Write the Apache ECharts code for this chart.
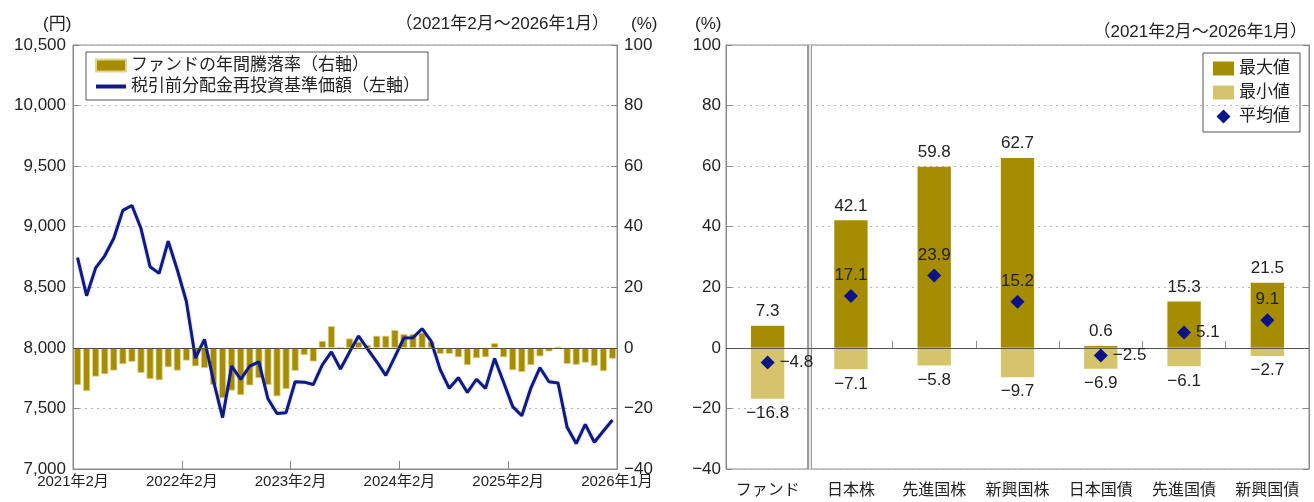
<!DOCTYPE html>
<html><head><meta charset="utf-8">
<script src="https://cdn.jsdelivr.net/npm/echarts@6/dist/echarts.min.js"></script>
<style>html,body{margin:0;padding:0;background:#fff}#c{width:1314px;height:502px}</style>
</head><body><div id="c"></div>
<script>
// ---- Left chart data (2021年2月〜2026年1月, monthly) ----
const fundReturn = [
  -12.3,-14.3,-9.5,-8.7,-7.5,-5.4,-4.6,-8.3,-10.3,-10.7,-6.4,-7.5,
  -4.2,-6.1,-6.7,-12.2,-16.6,-14.1,-15.6,-12.4,-10.0,-12.3,-16.0,-13.6,
  -7.6,-2.4,-4.5,2.3,7.2,0.2,3.1,2.0,1.0,4.0,4.0,5.9,
  4.6,4.6,5.0,2.1,-2.0,-2.0,-3.1,-5.7,-3.4,-3.1,1.6,-3.1,
  -7.4,-8.0,-5.7,-2.8,-1.2,0.4,-5.3,-5.6,-4.9,-6.0,-7.7,-3.6
];
const navValue = [
  8745,8430,8660,8760,8905,9135,9175,8985,8670,8615,8880,8645,
  8385,7915,8070,7725,7425,7850,7740,7850,7885,7580,7458,7465,
  7720,7717,7697,7860,7967,7825,7965,8098,7990,7885,7773,7926,
  8082,8083,8158,8055,7820,7666,7754,7632,7741,7666,7912,7714,
  7515,7440,7668,7836,7720,7710,7344,7210,7368,7221,7314,7405
];
const xTickLabels = ['2021年2月','2022年2月','2023年2月','2024年2月','2025年2月','2026年1月'];
const barName = 'ファンドの年間騰落率（右軸）';
const lineName = '税引前分配金再投資基準価額（左軸）';

// ---- Right chart data ----
const assetClasses = ['ファンド','日本株','先進国株','新興国株','日本国債','先進国債','新興国債'];
const maxValues = [7.3, 42.1, 59.8, 62.7, 0.6, 15.3, 21.5];
const minValues = [-16.8, -7.1, -5.8, -9.7, -6.9, -6.1, -2.7];
const avgValues = [-4.8, 17.1, 23.9, 15.2, -2.5, 5.1, 9.1];

const months = [];
for (let i = 0; i < fundReturn.length; i++) {
  const y = 2021 + Math.floor((1 + i) / 12);
  const m = ((1 + i) % 12) + 1;
  months.push(y + '年' + m + '月');
}

const FONT = "'Liberation Sans','Noto Sans CJK JP',sans-serif";
const TXT = '#222';
const GRID_LINE = {show: true, lineStyle: {color: '#b5b5b5', type: [2, 4], width: 1}};
const minus = v => (v < 0 ? '\u2212' : '') + Math.abs(v);
const fmt1 = v => (v < 0 ? '\u2212' : '') + Math.abs(v).toFixed(1);

// label placement of the average markers (style, not data)
const avgLabelSide = ['right','top','top','top','right','right','top'];

const chart = echarts.init(document.getElementById('c'), null, {renderer: 'canvas'});
const titleStyle = {fontSize: 17, fontWeight: 'normal', color: TXT, fontFamily: FONT};
const option = {
  animation: false,
  textStyle: {fontFamily: FONT, color: TXT},
  title: [
    {text: '(円)', left: 38, top: 11, textStyle: titleStyle},
    {text: '（2021年2月～2026年1月）', right: 700, top: 11, textStyle: titleStyle},
    {text: '(%)', left: 626, top: 11, textStyle: titleStyle},
    {text: '(%)', left: 690, top: 11, textStyle: titleStyle},
    {text: '（2021年2月～2026年1月）', right: 2, top: 19, textStyle: titleStyle}
  ],
  legend: [
    {
      orient: 'vertical', left: 86, top: 52,
      data: [{name: barName, icon: 'rect'}, {name: lineName, icon: 'path://M0,0 H30 V4 H0 Z'}],
      itemWidth: 30, itemHeight: 12, itemGap: 4,
      borderColor: '#555', borderWidth: 1, padding: [5, 8, 5, 9],
      textStyle: {fontSize: 17, color: TXT, fontFamily: FONT}
    },
    {
      orient: 'vertical', right: 14, top: 53,
      data: [{name: '最大値', icon: 'rect'}, {name: '最小値', icon: 'rect'},
             {name: '平均値', icon: 'path://M6,0 L12,6 L6,12 L0,6 Z'}],
      itemWidth: 21, itemHeight: 14, itemGap: 7,
      borderColor: '#555', borderWidth: 1, padding: [7, 10, 7, 10],
      textStyle: {fontSize: 17, color: TXT, fontFamily: FONT}
    }
  ],
  grid: [
    {left: 73, right: 697, top: 45, bottom: 33, show: true, borderColor: '#888', borderWidth: 1},
    {left: 726, right: 5, top: 45, bottom: 33, show: true, borderColor: '#888', borderWidth: 1}
  ],
  xAxis: [
    {type: 'category', gridIndex: 0, data: months, boundaryGap: true,
     axisLine: {show: false}, axisTick: {show: false}, axisLabel: {show: false}, splitLine: {show: false}},
    {type: 'value', gridIndex: 0, min: 0, max: 60, interval: 12, position: 'bottom',
     axisLine: {show: true, lineStyle: {color: '#888'}},
     axisTick: {show: true, inside: true, length: 8, lineStyle: {color: '#888'}},
     splitLine: {show: false},
     axisLabel: {fontSize: 15, color: TXT, margin: 5, fontFamily: FONT,
       formatter: v => xTickLabels[Math.round(v / 12)] || ''}},
    {type: 'category', gridIndex: 1, data: assetClasses, boundaryGap: true,
     axisLine: {show: true, lineStyle: {color: '#888'}},
     axisTick: {show: true, inside: true, length: 7, lineStyle: {color: '#888'}},
     axisLabel: {fontSize: 16, color: TXT, margin: 14, fontFamily: FONT},
     splitLine: {show: false}},
    {type: 'value', gridIndex: 1, min: 0, max: assetClasses.length, show: false,
     splitLine: {show: false}}
  ],
  yAxis: [
    {type: 'value', gridIndex: 0, min: 7000, max: 10500, interval: 500, position: 'left',
     axisLine: {show: true, lineStyle: {color: '#888'}},
     axisTick: {show: true, inside: true, length: 6, lineStyle: {color: '#888'}},
     axisLabel: {fontSize: 17, color: TXT, margin: 7, fontFamily: FONT, formatter: v => v.toLocaleString('en-US')},
     splitLine: GRID_LINE},
    {type: 'value', gridIndex: 0, min: -40, max: 100, interval: 20, position: 'right',
     axisLine: {show: true, lineStyle: {color: '#888'}},
     axisTick: {show: true, inside: true, length: 6, lineStyle: {color: '#888'}},
     axisLabel: {fontSize: 17, color: TXT, margin: 7, fontFamily: FONT, formatter: minus},
     splitLine: {show: false}},
    {type: 'value', gridIndex: 1, min: -40, max: 100, interval: 20, position: 'left',
     axisLine: {show: true, lineStyle: {color: '#888'}},
     axisTick: {show: true, inside: true, length: 6, lineStyle: {color: '#888'}},
     axisLabel: {fontSize: 17, color: TXT, margin: 5, fontFamily: FONT, formatter: minus},
     splitLine: GRID_LINE},
    {type: 'value', gridIndex: 1, min: -40, max: 100, interval: 20, position: 'right',
     axisLine: {show: true, lineStyle: {color: '#888'}},
     axisTick: {show: true, inside: true, length: 6, lineStyle: {color: '#888'}},
     axisLabel: {show: false}, splitLine: {show: false}}
  ],
  series: [
    {
      name: barName, type: 'bar', xAxisIndex: 0, yAxisIndex: 1, data: fundReturn,
      barCategoryGap: '22%',
      itemStyle: {color: '#a68c00', borderColor: '#e2d48a', borderWidth: 0.8},
      markLine: {silent: true, symbol: 'none', label: {show: false},
        lineStyle: {color: '#5a5040', type: 'solid', width: 1.2}, data: [{yAxis: 0}]}
    },
    {
      name: lineName, type: 'line', xAxisIndex: 0, yAxisIndex: 0, data: navValue,
      showSymbol: false, symbol: 'none',
      lineStyle: {color: '#0f1a84', width: 3, shadowColor: 'rgba(90,110,230,0.45)', shadowBlur: 2},
      itemStyle: {color: '#0f1a84'}
    },
    {
      name: 'separator', type: 'line', xAxisIndex: 3, yAxisIndex: 2, data: [],
      silent: true, z: 1,
      markLine: {silent: true, symbol: 'none', label: {show: false}, animation: false,
        data: [
          {xAxis: 1, lineStyle: {color: '#9a9a9a', width: 5, type: 'solid'}},
          {xAxis: 1, lineStyle: {color: '#ffffff', width: 1.5, type: 'solid'}}
        ]}
    },
    {
      name: '最大値', type: 'bar', xAxisIndex: 2, yAxisIndex: 2, data: maxValues,
      barWidth: '40%', barGap: '-100%',
      itemStyle: {color: '#a68c00'},
      label: {show: true, position: 'top', distance: 6, fontSize: 17, color: TXT, fontFamily: FONT, formatter: p => fmt1(p.value)}
    },
    {
      name: '最小値', type: 'bar', xAxisIndex: 2, yAxisIndex: 2, data: minValues,
      barWidth: '40%', barGap: '-100%',
      itemStyle: {color: '#d6c46c'},
      label: {show: true, position: 'bottom', distance: 6, fontSize: 17, color: TXT, fontFamily: FONT, formatter: p => fmt1(p.value)},
      markLine: {silent: true, symbol: 'none', label: {show: false},
        lineStyle: {color: '#555', type: 'solid', width: 1.2}, data: [{yAxis: 0}]}
    },
    {
      name: '平均値', type: 'scatter', xAxisIndex: 2, yAxisIndex: 2,
      data: avgValues.map((v, i) => ({value: v, label: {position: avgLabelSide[i]}})),
      symbol: 'diamond', symbolSize: 14, z: 5,
      itemStyle: {color: '#0a1488', opacity: 1},
      label: {show: true, distance: 5, fontSize: 17, color: TXT, fontFamily: FONT, formatter: p => fmt1(p.value)}
    }
  ]
};
chart.setOption(option);
</script>
</body></html>
